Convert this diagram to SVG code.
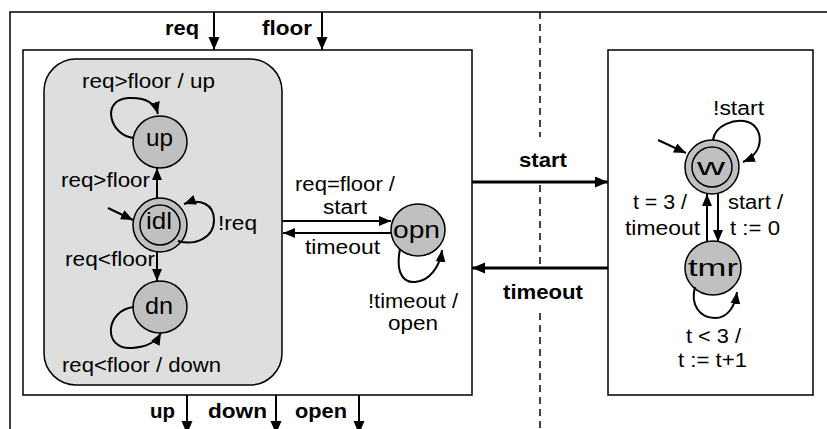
<svg xmlns="http://www.w3.org/2000/svg" width="827" height="429" viewBox="0 0 827 429">
<style>
text{font-family:"Liberation Sans",Arial,sans-serif;fill:#000}
.l{font-size:20px;text-anchor:middle}
.b{font-size:20px;font-weight:bold;text-anchor:middle}
.n{font-size:24px;text-anchor:middle}
.box{fill:#fff;stroke:#000;stroke-width:1.5}
.st{fill:#c0c0c0;stroke:#000;stroke-width:1.5}
.ring{fill:none;stroke:#000;stroke-width:1.5}
.e{fill:none;stroke:#000;stroke-width:2}
.t{fill:none;stroke:#000;stroke-width:3}
.d{fill:none;stroke:#000;stroke-width:1.5;stroke-dasharray:7 5}
</style>
<defs>
<marker id="a" markerUnits="userSpaceOnUse" markerWidth="13" markerHeight="11" refX="12" refY="5" orient="auto"><path d="M0,0 L12,5 L0,10 z" fill="#000"/></marker>
<marker id="A" markerUnits="userSpaceOnUse" markerWidth="14" markerHeight="12" refX="13" refY="5.5" orient="auto"><path d="M0,0 L13,5.5 L0,11 z" fill="#000"/></marker>
</defs>
<rect x="10" y="12" width="830" height="430" fill="none" stroke="#000" stroke-width="1.5"/>
<g id="divider">
<path class="d" d="M540,12 V137 M540,185 V265 M540,313 V432"/>
</g>
<g id="controller">
<rect class="box" x="23" y="50" width="449" height="345"/>
</g>
<g id="timer">
<rect class="box" x="608" y="50" width="205" height="345"/>
</g>
<g id="moving">
<rect x="44" y="59" width="238" height="326" rx="32" ry="32" fill="#dedede" stroke="#000" stroke-width="1.5"/>
</g>
<g id="up">
<ellipse class="st" cx="160" cy="142" rx="27" ry="26"/>
<text class="n" x="159.5" y="146" textLength="27" lengthAdjust="spacingAndGlyphs">up</text>
</g>
<g id="idl">
<circle class="st" cx="160" cy="225" r="27"/>
<circle class="ring" cx="160" cy="225" r="20"/>
<text class="n" x="159" y="229" textLength="26" lengthAdjust="spacingAndGlyphs">idl</text>
</g>
<g id="dn">
<ellipse class="st" cx="160" cy="307" rx="27" ry="26"/>
<text class="n" x="159" y="314" textLength="28" lengthAdjust="spacingAndGlyphs">dn</text>
</g>
<g id="opn">
<ellipse class="st" cx="418" cy="230" rx="27" ry="26"/>
<text class="n" x="416.5" y="238" textLength="47" lengthAdjust="spacingAndGlyphs">opn</text>
</g>
<g id="w">
<circle class="st" cx="712" cy="167" r="27"/>
<circle class="ring" cx="712" cy="167" r="20"/>
<text class="n" x="711" y="175" textLength="28" lengthAdjust="spacingAndGlyphs">w</text>
</g>
<g id="tmr">
<ellipse class="st" cx="713" cy="268" rx="28" ry="27"/>
<text class="n" x="713" y="276" textLength="50" lengthAdjust="spacingAndGlyphs">tmr</text>
</g>
<g id="connectors">
<path class="e" d="M214,12 V50" marker-end="url(#A)"/>
<path class="e" d="M322,12 V50" marker-end="url(#A)"/>
<path class="e" d="M187,395 V434" marker-end="url(#A)"/>
<path class="e" d="M276,395 V434" marker-end="url(#A)"/>
<path class="e" d="M359,395 V434" marker-end="url(#A)"/>
<path class="t" d="M472,182 H608" marker-end="url(#A)"/>
<path class="t" d="M608,268 H472" marker-end="url(#A)"/>
<path class="e" d="M157,198 V168" marker-end="url(#a)"/>
<path class="e" d="M157,252 V281" marker-end="url(#a)"/>
<path class="e" d="M134,138 C110,136 100,100 128,98 C145,97 155,103 158,114" marker-end="url(#a)"/>
<path class="e" d="M134,307 C105,310 102,350 132,348 C148,347 156,342 161,333" marker-end="url(#a)"/>
<path class="e" d="M178,241 C195,246 214,238 214,220 C214,204 200,198 184,204" marker-end="url(#a)"/>
<path class="e" d="M108,208 L133,220" marker-end="url(#a)"/>
<path class="e" d="M282,221 H391" marker-end="url(#a)"/>
<path class="e" d="M392,233 H283" marker-end="url(#a)"/>
<path class="e" d="M400,249 C395,275 405,283 415,282 C430,281 440,266 442,250" marker-end="url(#a)"/>
<path class="e" d="M658,140 L686,153" marker-end="url(#a)"/>
<path class="e" d="M713,140 C715,125 735,118 748,122 C763,127 766,152 743,162" marker-end="url(#a)"/>
<path class="e" d="M718,194 V242" marker-end="url(#a)"/>
<path class="e" d="M707,242 V194" marker-end="url(#a)"/>
<path class="e" d="M695,287 C690,305 700,318 715,318 C728,318 735,306 737,292" marker-end="url(#a)"/>
</g>
<g id="labels">
<text class="b" x="182" y="35" textLength="34" lengthAdjust="spacingAndGlyphs">req</text>
<text class="b" x="287" y="35" textLength="50" lengthAdjust="spacingAndGlyphs">floor</text>
<text class="b" x="162.5" y="418" textLength="25" lengthAdjust="spacingAndGlyphs">up</text>
<text class="b" x="237.5" y="418" textLength="59" lengthAdjust="spacingAndGlyphs">down</text>
<text class="b" x="321" y="418" textLength="52" lengthAdjust="spacingAndGlyphs">open</text>
<text class="b" x="543" y="167" textLength="48" lengthAdjust="spacingAndGlyphs">start</text>
<text class="b" x="543" y="299" textLength="80" lengthAdjust="spacingAndGlyphs">timeout</text>
<text class="l" x="148.5" y="88" textLength="133" lengthAdjust="spacingAndGlyphs">req&gt;floor / up</text>
<text class="l" x="105.5" y="187" textLength="89" lengthAdjust="spacingAndGlyphs">req&gt;floor</text>
<text class="l" x="110" y="266" textLength="90" lengthAdjust="spacingAndGlyphs">req&lt;floor</text>
<text class="l" x="141.5" y="372" textLength="159" lengthAdjust="spacingAndGlyphs">req&lt;floor / down</text>
<text class="l" x="237.5" y="230" textLength="39" lengthAdjust="spacingAndGlyphs">!req</text>
<text class="l" x="345" y="191" textLength="100" lengthAdjust="spacingAndGlyphs">req=floor /</text>
<text class="l" x="345" y="214" textLength="44" lengthAdjust="spacingAndGlyphs">start</text>
<text class="l" x="342.5" y="254" textLength="75" lengthAdjust="spacingAndGlyphs">timeout</text>
<text class="l" x="413" y="308" textLength="90" lengthAdjust="spacingAndGlyphs">!timeout /</text>
<text class="l" x="413" y="330" textLength="50" lengthAdjust="spacingAndGlyphs">open</text>
<text class="l" x="738.5" y="115" textLength="51" lengthAdjust="spacingAndGlyphs">!start</text>
<text class="l" x="660" y="209" textLength="54" lengthAdjust="spacingAndGlyphs">t = 3 /</text>
<text class="l" x="662.5" y="235" textLength="75" lengthAdjust="spacingAndGlyphs">timeout</text>
<text class="l" x="755.5" y="209" textLength="55" lengthAdjust="spacingAndGlyphs">start /</text>
<text class="l" x="755" y="235" textLength="50" lengthAdjust="spacingAndGlyphs">t := 0</text>
<text class="l" x="713.5" y="343" textLength="55" lengthAdjust="spacingAndGlyphs">t &lt; 3 /</text>
<text class="l" x="712.5" y="367" textLength="69" lengthAdjust="spacingAndGlyphs">t := t+1</text>
</g>
</svg>
